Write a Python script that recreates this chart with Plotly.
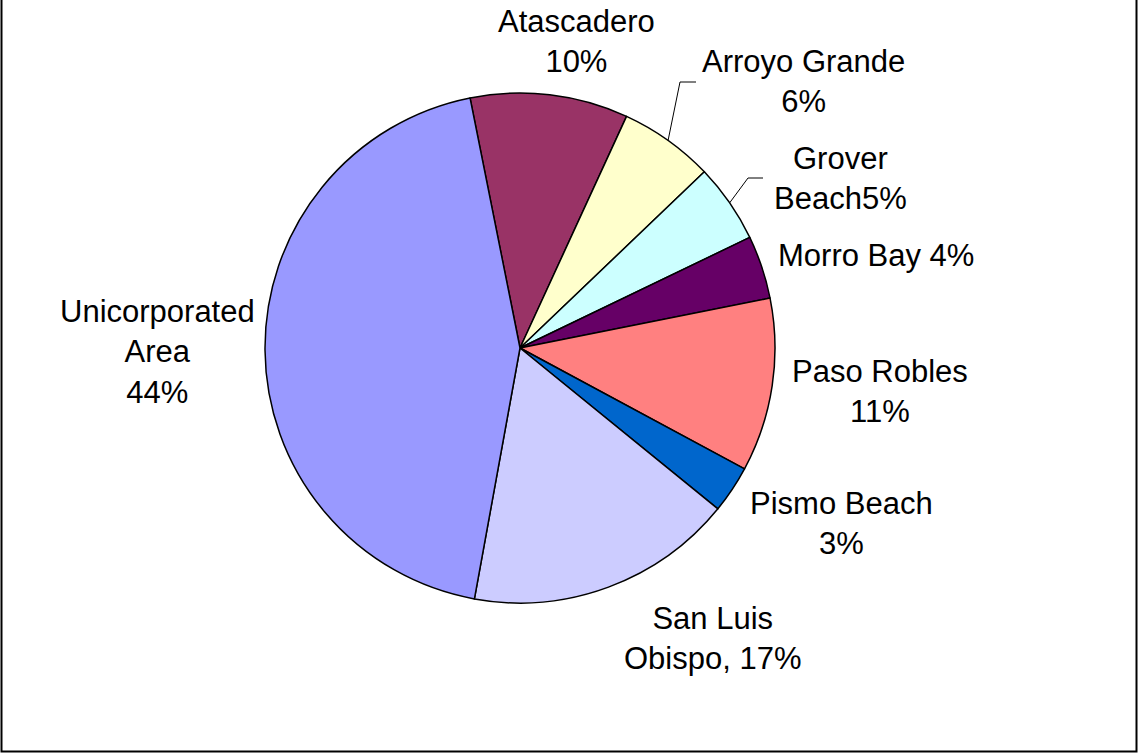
import math
import plotly.graph_objects as go

# ---- data ----
labels = ["Atascadero", "Arroyo Grande", "Grover Beach", "Morro Bay",
          "Paso Robles", "Pismo Beach", "San Luis Obispo", "Unicorporated Area"]
values = [10, 6, 5, 4, 11, 3, 17, 44]
label_texts = ["Atascadero<br>10%", "Arroyo Grande<br>6%", "Grover<br>Beach5%",
               "Morro Bay 4%", "Paso Robles<br>11%", "Pismo Beach<br>3%",
               "San Luis<br>Obispo, 17%", "Unicorporated<br>Area<br>44%"]
colors = ["#993366", "#FFFFCC", "#CCFFFF", "#660066",
          "#FF8080", "#0066CC", "#CCCCFF", "#9999FF"]

# ---- layout geometry (pixels) ----
W, H = 1138, 753
CX, CY, R = 520, 348, 255
ROT = -11.3  # start angle of first slice (deg, clockwise from 12 o'clock)
label_pos = [(577, 42), (803, 81), (840, 178), (876, 256),
             (880, 391), (841, 523), (713, 638), (157, 352)]
leader_elbows = {1: ((680, 82), (696, 82)), 2: ((748, 178), (763, 178))}


def px(x):
    return x / W


def py(y):
    return 1 - y / H


fig = go.Figure(go.Pie(
    labels=labels, values=values, sort=False, direction="clockwise",
    rotation=ROT % 360, textinfo="none", showlegend=False,
    marker=dict(colors=colors, line=dict(color="black", width=1.5)),
    domain=dict(x=[px(CX - R), px(CX + R)], y=[py(CY + R), py(CY - R)]),
))

annotations = []
for t, (x, y) in zip(label_texts, label_pos):
    annotations.append(dict(x=px(x), y=py(y), xref="paper", yref="paper",
                            text=t, showarrow=False, xanchor="center",
                            yanchor="middle", align="center",
                            font=dict(family="Liberation Sans, Arial", size=31, color="black")))

shapes = []
total = sum(values)
cum = 0
for i, v in enumerate(values):
    mid = ROT + (cum + v / 2) / total * 360
    cum += v
    if i in leader_elbows:
        a = math.radians(mid)
        sx, sy = CX + R * math.sin(a), CY - R * math.cos(a)
        (ex, ey), (hx, hy) = leader_elbows[i]
        path = f"M {px(sx)},{py(sy)} L {px(ex)},{py(ey)} L {px(hx)},{py(hy)}"
        shapes.append(dict(type="path", path=path, xref="paper", yref="paper",
                           line=dict(color="black", width=1)))

# chart frame (left, bottom, right edges)
frame = f"M {px(1.5)},{py(0)} L {px(1.5)},{py(751.5)} L {px(1136.5)},{py(751.5)} L {px(1136.5)},{py(0)}"
shapes.append(dict(type="path", path=frame, xref="paper", yref="paper",
                   line=dict(color="black", width=2)))

fig.update_layout(width=W, height=H, margin=dict(l=0, r=0, t=0, b=0),
                  paper_bgcolor="white", plot_bgcolor="white",
                  annotations=annotations, shapes=shapes)

fig.write_html("out.html", config={"displayModeBar": False},
               post_script="document.body.style.margin='0';document.body.style.overflow='hidden';")
